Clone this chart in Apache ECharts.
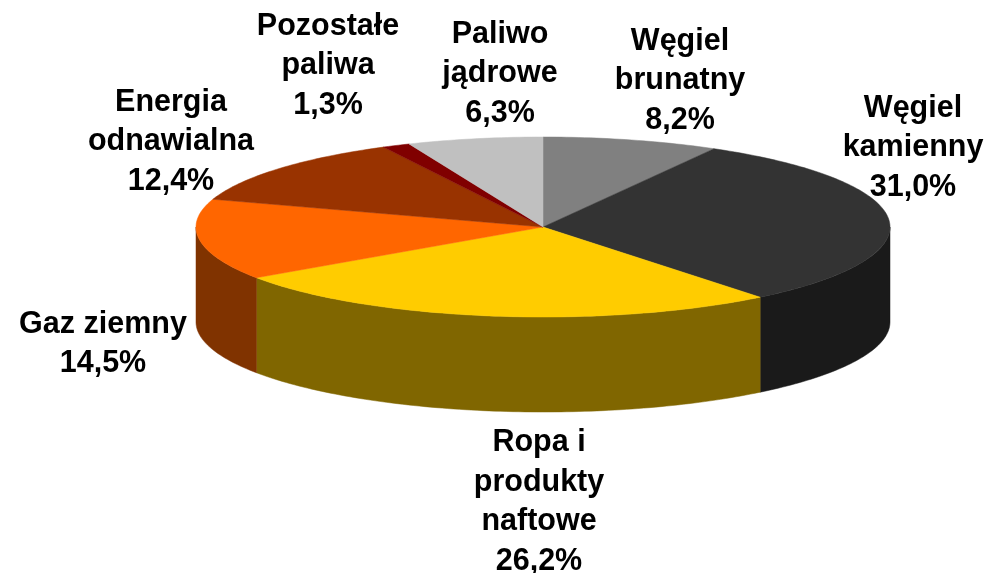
<!DOCTYPE html>
<html style="height: 100%">
<head>
<meta charset="utf-8">
<script src="https://cdn.jsdelivr.net/npm/echarts@6/dist/echarts.min.js"></script>
</head>
<body style="height: 100%; margin: 0; background: #fff">
<div id="container" style="width: 990px; height: 573px"></div>
<script>
// clockwise from 12 o'clock
var names = ['Węgiel\nbrunatny', 'Węgiel\nkamienny', 'Ropa i\nprodukty\nnaftowe', 'Gaz ziemny', 'Energia\nodnawialna', 'Pozostałe\npaliwa', 'Paliwo\njądrowe'];
var values = [8.2, 31.0, 26.2, 14.5, 12.4, 1.3, 6.3];
var topColors = ['#808080', '#333333', '#ffcc00', '#ff6600', '#993300', '#800000', '#c0c0c0'];
var sideColors = ['#404040', '#1a1a1a', '#806600', '#803300', '#4d1a00', '#400000', '#606060'];

var labelX = [680, 913, 539, 103, 171, 328, 500];
var labelY = [81, 148, 502, 344, 142, 66, 74];

var cx = 543, cy = 227, rx = 347, ry = 90, depth = 95;
var total = values.reduce(function (a, b) { return a + b; }, 0);

function pt(deg, dy) {
    var a = deg * Math.PI / 180;
    return [cx + rx * Math.sin(a), cy - ry * Math.cos(a) + (dy || 0)];
}

function arc(from, to, dy) {
    var pts = [];
    var n = Math.max(2, Math.ceil(Math.abs(to - from)));
    for (var i = 0; i <= n; i++) {
        pts.push(pt(from + (to - from) * i / n, dy));
    }
    return pts;
}

function renderSlice(params) {
    var i = params.dataIndex;
    var before = 0;
    for (var k = 0; k < i; k++) before += values[k];
    var start = before / total * 360;
    var end = (before + values[i]) / total * 360;
    var children = [];

    // only the front half of the wall can be seen
    var wallFrom = Math.max(start, 90), wallTo = Math.min(end, 270);
    if (wallTo > wallFrom) {
        children.push({
            type: 'polygon',
            shape: {points: arc(wallFrom, wallTo, 0).concat(arc(wallTo, wallFrom, depth))},
            style: {fill: sideColors[i], stroke: sideColors[i], lineWidth: 0.5}
        });
    }
    children.push({
        type: 'polygon',
        shape: {points: [[cx, cy]].concat(arc(start, end, 0))},
        style: {fill: topColors[i], stroke: topColors[i], lineWidth: 0.5}
    });
    children.push({
        type: 'text',
        x: labelX[i],
        y: labelY[i],
        z2: 10,
        style: {
            text: names[i] + '\n' + values[i].toFixed(1).replace('.', ',') + '%',
            font: 'bold 30.5px "Liberation Sans", Arial, sans-serif',
            lineHeight: 39.5,
            fill: '#000',
            align: 'center',
            verticalAlign: 'middle'
        }
    });
    return {type: 'group', children: children};
}

var myChart = echarts.init(document.getElementById('container'));
myChart.setOption({
    animation: false,
    series: [{
        type: 'custom',
        coordinateSystem: 'none',
        silent: true,
        renderItem: renderSlice,
        data: values
    }]
});
</script>
</body>
</html>
